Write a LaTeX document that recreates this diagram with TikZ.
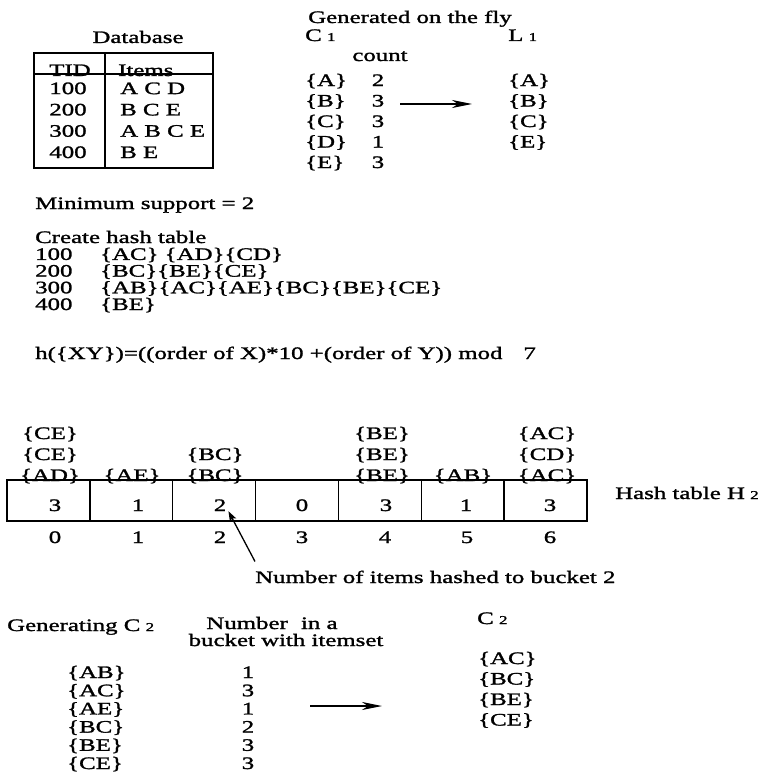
\documentclass[tikz,border=0pt]{standalone}
\usepackage{fontspec}
\setmainfont{Liberation Serif}[FakeStretch=1.42, FakeBold=1.5]
\usepackage{tikz}
\usetikzlibrary{arrows.meta}
\usetikzlibrary{positioning}

\newcommand{\lowidx}[1]{\hspace{0.3em}{\fontsize{12}{12}\selectfont #1}}

\tikzset{
  every node/.style={font=\fontsize{17.5}{21}\selectfont, inner sep=0pt},
  txt/.style={anchor=base west, align=left},
  col/.style={anchor=base, align=center},
  tight/.style={font=\fontsize{17.5}{16.7}\selectfont},
  bucket/.style={draw, line width=1.3pt, minimum width=82.86pt, minimum height=41pt},
  bigarrow/.style={line width=1.3pt, -{Stealth[length=20pt, width=8pt, inset=6pt]}},
  ptrarrow/.style={line width=1.3pt, -{Stealth[length=10pt, width=7pt, inset=2pt]}}
}

\begin{document}
\begin{tikzpicture}[x=1pt, y=-1pt]
  \useasboundingbox (0,0) rectangle (760,773);

  % Database and first pass
  \node[col] (gen) at (410,23) {Generated on the fly};
  \node[col] (db) at (138,43) {Database};
  \draw[line width=1.3pt] (34,53) rectangle (213,168);
  \draw[line width=1.3pt] (34,74) -- (213,74);
  \draw[line width=1.3pt] (105,53) -- (105,168);
  \node[col] (tid) at (70,76) {TID};
  \node[txt] (items) at (118,76) {Items};
  \node[col, font=\fontsize{17.5}{21.3}\selectfont] (tids) at (68,158) {100\\200\\300\\400};
  \node[txt, font=\fontsize{17.5}{21.3}\selectfont] (itemlist) at (120,158) {A C D\\B C E\\A B C E\\B E};

  \node[txt] (c1) at (305,41) {C\lowidx{1}};
  \node[col] (count) at (380,61) {count};
  \node[txt, font=\fontsize{17.5}{20.5}\selectfont] (c1list) at (305,168) {\{A\}\\\{B\}\\\{C\}\\\{D\}\\\{E\}};
  \node[col, font=\fontsize{17.5}{20.5}\selectfont] (c1count) at (378,168) {2\\3\\3\\1\\3};
  \node[txt] (l1) at (508,41) {L\lowidx{1}};
  \node[txt, font=\fontsize{17.5}{20.5}\selectfont] (l1list) at (508,147.5) {\{A\}\\\{B\}\\\{C\}\\\{E\}};
  \coordinate (c1out) at (400,104);
  \coordinate (l1in) at (472,104);

  % Hash table construction
  \node[txt] (minsup) at (35,209) {Minimum support = 2};
  \node[txt] (create) at (35,243) {Create hash table};
  \node[txt, tight] (tids2) at (35,310) {100\\200\\300\\400};
  \node[txt, tight] (pairs) at (100,310) {\{AC\} \{AD\}\{CD\}\\\{BC\}\{BE\}\{CE\}\\\{AB\}\{AC\}\{AE\}\{BC\}\{BE\}\{CE\}\\\{BE\}};
  \node[txt] (hashfn) at (35,359) {h(\{XY\})=((order of X)*10 +(order of Y)) mod\hspace{1.2em}7};

  % Buckets
  \node[bucket] (h0) at (48.4,500.5) {};
  \node[bucket] (h1) at (131.3,500.5) {};
  \node[bucket] (h2) at (214.1,500.5) {};
  \node[bucket] (h3) at (297,500.5) {};
  \node[bucket] (h4) at (379.9,500.5) {};
  \node[bucket] (h5) at (462.7,500.5) {};
  \node[bucket] (h6) at (545.6,500.5) {};

  \node[col] (v0) at (55,511) {3};
  \node[col] (v1) at (138,511) {1};
  \node[col] (v2) at (220,511) {2};
  \node[col] (v3) at (302,511) {0};
  \node[col] (v4) at (386,511) {3};
  \node[col] (v5) at (466,511) {1};
  \node[col] (v6) at (550,511) {3};

  \node[col] (s0) at (50,481) {\{CE\}\\\{CE\}\\\{AD\}};
  \node[col] (s1) at (132,481) {\{AE\}};
  \node[col] (s2) at (215,481) {\{BC\}\\\{BC\}};
  \node[col] (s4) at (382,481) {\{BE\}\\\{BE\}\\\{BE\}};
  \node[col] (s5) at (463,481) {\{AB\}};
  \node[col] (s6) at (547,481) {\{AC\}\\\{CD\}\\\{AC\}};

  \node[col] (i0) at (55,543) {0};
  \node[col] (i1) at (138,543) {1};
  \node[col] (i2) at (220,543) {2};
  \node[col] (i3) at (302,543) {3};
  \node[col] (i4) at (385,543) {4};
  \node[col] (i5) at (467,543) {5};
  \node[col] (i6) at (550,543) {6};

  \node[txt] (htab) at (615,499) {Hash table H\lowidx{2}};
  \node[txt] (note) at (255,583) {Number of items hashed to bucket 2};

  % Second pass
  \node[txt] (genc2) at (7,631) {Generating C\lowidx{2}};
  \node[col, font=\fontsize{17.5}{17}\selectfont] (numhead) at (286,646) {Number\hspace{0.4em} in a\kern28pt\\bucket with itemset};
  \node[txt, font=\fontsize{17.5}{18.2}\selectfont] (c2cand) at (67,769) {\{AB\}\\\{AC\}\\\{AE\}\\\{BC\}\\\{BE\}\\\{CE\}};
  \node[col, font=\fontsize{17.5}{18.2}\selectfont] (c2num) at (248,769) {1\\3\\1\\2\\3\\3};
  \node[txt] (c2) at (477,624) {C\lowidx{2}};
  \node[txt, font=\fontsize{17.5}{20.5}\selectfont] (c2list) at (478,725.5) {\{AC\}\\\{BC\}\\\{BE\}\\\{CE\}};
  \coordinate (c2out) at (310,706);
  \coordinate (c2in) at (382,706);

  % Draw arrows
  \draw[bigarrow] (c1out) -- (l1in);
  \draw[ptrarrow] ([yshift=9pt]note.north west) -- ([xshift=2pt]v2.south east);
  \draw[bigarrow] (c2out) -- (c2in);
\end{tikzpicture}
\end{document}
